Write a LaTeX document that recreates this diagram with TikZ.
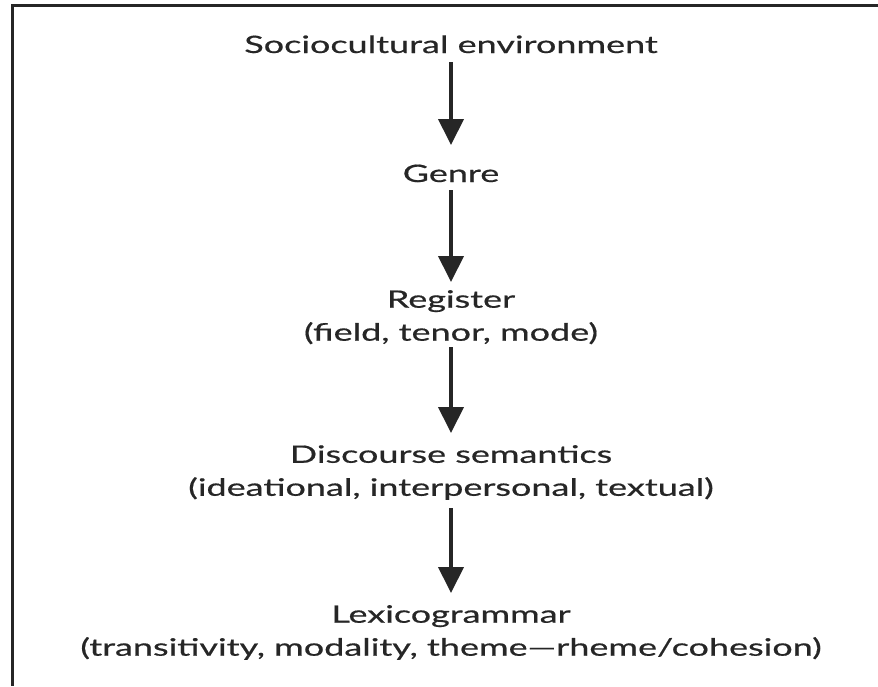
\documentclass[tikz,border=0pt]{standalone}
\usepackage{fontspec}
\setmainfont[FakeStretch=1.5,FakeBold=0.6]{Lato}
\usetikzlibrary{arrows.meta}
\definecolor{ink}{HTML}{262626}
\begin{document}
\begin{tikzpicture}[x=1pt,y=-1pt,
  level/.style={inner sep=0pt, align=center, text=ink,
    font=\fontsize{24}{33}\selectfont},
  flow/.style={draw=ink, line width=4pt,
    -{Triangle[width=25pt,length=26pt]}},
  frame/.style={draw=ink, line width=3pt}]
\useasboundingbox (0,0) rectangle (878,686);
% open frame: top rule and left rule only
\draw[frame] (878,5) -- (12.5,5) -- (12.5,686);
% levels, placed by their first baseline or top edge
\node[level, anchor=base] (soc) at (451,53) {Sociocultural environment};
\node[level, anchor=base] (genre) at (451,182) {Genre};
\node[level, anchor=north] (reg) at (451,290) {Register\\(field, tenor, mode)};
\node[level, anchor=north] (disc) at (451,445) {Discourse semantics\\(ideational, interpersonal, textual)};
\node[level, anchor=north] (lex) at (451,605) {Lexicogrammar\\(transitivity, modality, theme—rheme/cohesion)};
% realisation arrows
\draw[flow] ([yshift=-9pt]soc.base) -- ([yshift=37pt]genre.base);
\draw[flow] ([yshift=-8pt]genre.base) -- ([yshift=8pt]reg.north);
\draw[flow] ([yshift=-3pt]reg.south) -- ([yshift=12pt]disc.north);
\draw[flow] ([yshift=-8pt]disc.south) -- ([yshift=12pt]lex.north);
\end{tikzpicture}
\end{document}
